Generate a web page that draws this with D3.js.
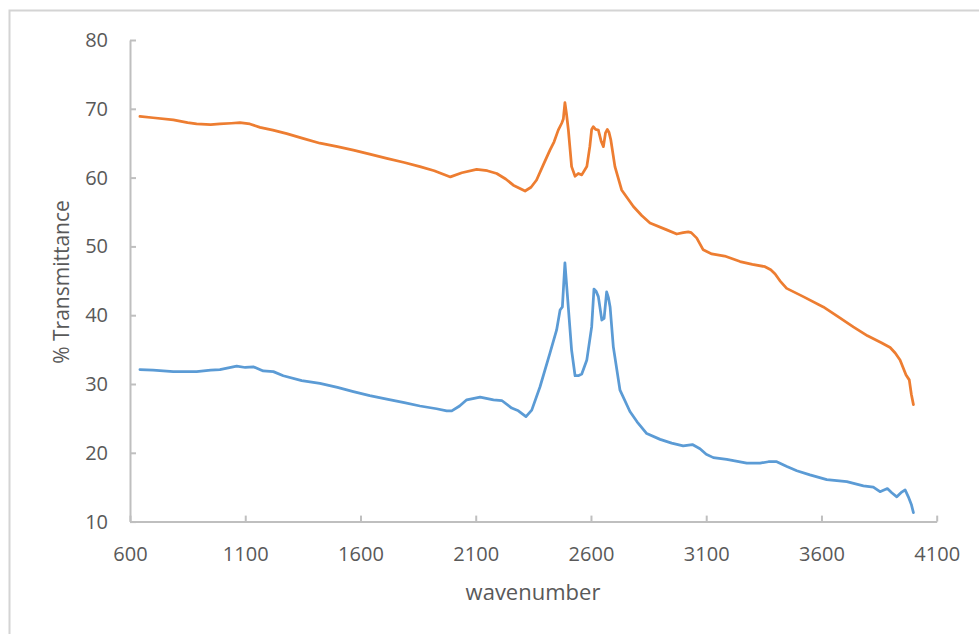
<!DOCTYPE html>
<html>
<head>
<meta charset="utf-8">
<script src="https://cdn.jsdelivr.net/npm/d3@7"></script>
<style>
  body { margin: 0; background: #fff; }
  text { font-family: "Open Sans", sans-serif; fill: #595959; }
</style>
</head>
<body>
<div id="chart"></div>
<script>
// upper trace (orange)
var wavenumberA = [643,700,788,850,889,950,990,1040,1077,1120,1164,1220,1280,1350,1424,1500,1569,1640,1714,1790,1858,1920,1990,2040,2104,2150,2191,2230,2263,2314,2340,2364,2395,2422,2440,2458,2473,2480,2487,2494,2502,2516,2531,2545,2560,2582,2595,2603,2610,2620,2632,2645,2654,2663,2671,2678,2686,2704,2733,2784,2820,2856,2929,2972,3000,3022,3035,3059,3087,3124,3180,3247,3300,3355,3380,3399,3420,3449,3521,3608,3680,3738,3800,3860,3898,3920,3941,3967,3981,3990,3999];
var transmittanceA = [68.9,68.7,68.4,68.0,67.8,67.7,67.8,67.9,68.0,67.8,67.3,66.9,66.4,65.7,65.0,64.5,64.0,63.4,62.8,62.2,61.6,61.0,60.1,60.7,61.2,61.0,60.6,59.8,58.9,58.05,58.6,59.65,62.0,64.0,65.2,66.9,67.9,68.5,70.9,69.2,66.9,61.6,60.2,60.6,60.4,61.6,64.5,67.0,67.4,67.0,66.9,65.2,64.5,66.5,67.0,66.6,65.5,61.6,58.2,55.8,54.5,53.4,52.4,51.8,52.0,52.1,52.0,51.2,49.5,48.9,48.6,47.8,47.4,47.05,46.6,46.0,45.0,43.9,42.7,41.2,39.6,38.3,37.0,36.0,35.3,34.5,33.5,31.3,30.6,28.5,27.0];

// lower trace (blue)
var wavenumberB = [643,700,788,889,950,990,1063,1100,1135,1178,1222,1265,1345,1424,1500,1569,1640,1714,1790,1858,1930,1974,1996,2030,2061,2119,2177,2213,2256,2285,2318,2343,2379,2422,2451,2466,2476,2487,2497,2516,2531,2545,2560,2582,2603,2613,2622,2632,2647,2657,2668,2676,2683,2697,2726,2769,2800,2842,2900,2950,3000,3040,3073,3100,3131,3189,3276,3334,3370,3406,3450,3493,3550,3623,3710,3782,3825,3854,3886,3905,3927,3945,3963,3977,3990,3999];
var transmittanceB = [32.1,32.0,31.8,31.8,32.0,32.1,32.6,32.4,32.5,31.9,31.8,31.2,30.5,30.1,29.5,28.9,28.3,27.8,27.3,26.8,26.4,26.1,26.1,26.8,27.7,28.1,27.7,27.6,26.5,26.1,25.25,26.2,29.6,34.5,37.85,40.75,41.2,47.6,43.2,34.9,31.2,31.2,31.45,33.5,38.3,43.8,43.5,42.7,39.3,39.55,43.4,42.5,41.2,35.4,29.1,26.0,24.5,22.8,21.95,21.4,21.0,21.2,20.6,19.8,19.3,19.05,18.5,18.5,18.7,18.7,18.0,17.4,16.8,16.1,15.8,15.2,15.0,14.35,14.8,14.2,13.6,14.2,14.6,13.6,12.5,11.3];

var xTicks = [600,1100,1600,2100,2600,3100,3600,4100];
var yTicks = [10,20,30,40,50,60,70,80];

function init(){
    var w = 979;
    var h = 634;

    var svg = d3.select("#chart")
                .append("svg")
                .attr("width", w)
                .attr("height", h);

    // chart area border (only left and top visible)
    svg.append("path")
        .attr("d", "M9.5,634 L9.5,10.5 L979,10.5")
        .attr("fill", "none")
        .attr("stroke", "#d4d4d4")
        .attr("stroke-width", 2);

    var x = d3.scaleLinear().domain([600, 4100]).range([130, 936.7]);
    var y = d3.scaleLinear().domain([10, 80]).range([521.6, 40]);

    var xAxis = svg.append("g")
        .attr("transform", "translate(0,521.6)")
        .call(d3.axisBottom(x).tickValues(xTicks).tickSizeInner(-6).tickSizeOuter(0).tickPadding(25).tickFormat(d3.format("d")));
    var yAxis = svg.append("g")
        .attr("transform", "translate(130,0)")
        .call(d3.axisLeft(y).tickValues(yTicks).tickSizeInner(-6).tickSizeOuter(0).tickPadding(22).tickFormat(d3.format("d")));

    [xAxis, yAxis].forEach(function(a){
        a.select(".domain").attr("stroke", "#bfbfbf").attr("stroke-width", 2);
        a.selectAll(".tick line").attr("stroke", "#bfbfbf").attr("stroke-width", 2);
        a.selectAll("text").attr("font-size", "20px").attr("fill", "#595959")
            .attr("font-family", "'Open Sans', sans-serif");
    });

    svg.append("text")
        .attr("x", 533)
        .attr("y", 600)
        .attr("text-anchor", "middle")
        .attr("font-size", "22px")
        .text("wavenumber");

    svg.append("text")
        .attr("transform", "translate(69,282) rotate(-90)")
        .attr("text-anchor", "middle")
        .attr("font-size", "21px")
        .text("% Transmittance");

    var line = d3.line()
        .x(function(d){ return x(d[0]); })
        .y(function(d){ return y(d[1]); });

    var series = [
        { wave: wavenumberB, t: transmittanceB, color: "#5b9bd5" },
        { wave: wavenumberA, t: transmittanceA, color: "#ed7d31" }
    ];

    series.forEach(function(s){
        var pts = s.wave.map(function(v, i){ return [v, s.t[i]]; });
        svg.append("path")
            .datum(pts)
            .attr("d", line)
            .attr("fill", "none")
            .attr("stroke", s.color)
            .attr("stroke-width", 2.75)
            .attr("stroke-linejoin", "round")
            .attr("stroke-linecap", "round");
    });
}
window.onload = init;
</script>
</body>
</html>
